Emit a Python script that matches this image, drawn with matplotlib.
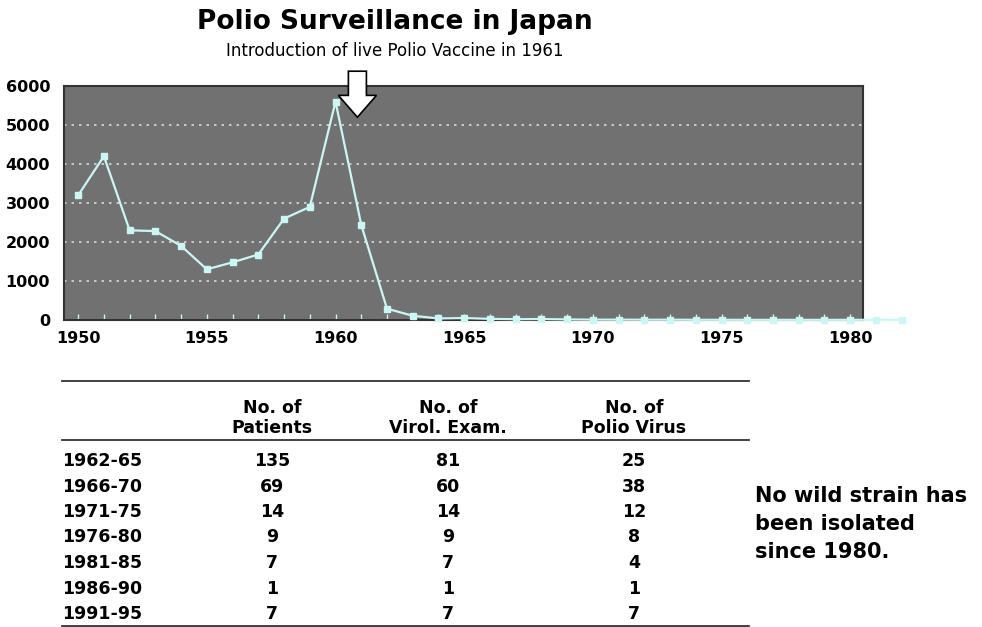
import matplotlib.pyplot as plt
import matplotlib.patches as mpatches
from matplotlib.lines import Line2D

plt.rcParams['font.family'] = ['DejaVu Sans']

# polio cases per year
years = list(range(1950, 1983))
cases = [3200, 4200, 2300, 2280, 1900, 1300, 1480, 1680, 2600, 2900,
         5600, 2440, 290, 110, 40, 50, 30, 20, 25, 15,
         10, 10, 8, 8, 6, 6, 5, 5, 5, 5,
         5, 5, 5]

# table
periods = ["1962-65", "1966-70", "1971-75", "1976-80", "1981-85", "1986-90", "1991-95"]
patients = [135, 69, 14, 9, 7, 1, 7]
virol_exam = [81, 60, 14, 9, 7, 1, 7]
polio_virus = [25, 38, 12, 8, 4, 1, 7]
col_heads = ["No. of\nPatients", "No. of\nVirol. Exam.", "No. of\nPolio Virus"]

fig = plt.figure(figsize=(9.82, 6.27), dpi=100)

# ---- line chart
ax = fig.add_axes([0.0652, 0.4896, 0.8137, 0.3732])
ax.set_facecolor("#717171")
ax.plot(years, cases, color="#c9f7f5", lw=1.6, marker="s", ms=5,
        mfc="#c9f7f5", mec="#c9f7f5", clip_on=False, zorder=5)
ax.set_xlim(1949.45, 1980.5)
ax.set_ylim(0, 6000)
ax.set_yticks(range(0, 7000, 1000))
ax.set_xticks(range(1950, 1981, 5))
ax.set_xticks(range(1950, 1981), minor=True)
ax.tick_params(axis="x", which="both", direction="in", length=4, color="#c9f7f5", width=1)
ax.tick_params(axis="y", length=0, pad=10)
ax.tick_params(axis="x", pad=8)
for lab in ax.get_xticklabels() + ax.get_yticklabels():
    lab.set_fontweight("bold")
    lab.set_fontsize(11.5)
ax.grid(axis="y", color="#d8d8d8", ls=(0, (1.5, 3)), lw=1.2)
ax.grid(axis="x", visible=False)
for s in ax.spines.values():
    s.set_color("#333333")
    s.set_linewidth(1.5)

# arrow marking vaccine introduction (1961)
arr = mpatches.FancyArrow(1960.85, 6380, 0, -1180, width=0.7, head_width=1.48,
                          head_length=560, length_includes_head=True,
                          fc="white", ec="black", lw=1.2, clip_on=False, zorder=6)
ax.add_patch(arr)

fig.text(0.402, 0.965, "Polio Surveillance in Japan", ha="center", va="center",
         fontsize=19, fontweight="bold")
fig.text(0.402, 0.918, "Introduction of live Polio Vaccine in 1961", ha="center",
         va="center", fontsize=12)

# ---- table, pixel coordinates
tx = fig.add_axes([0, 0, 1, 1])
tx.set_xlim(0, 982)
tx.set_ylim(627, 0)
tx.axis("off")
tx.patch.set_alpha(0)

tx.add_line(Line2D([62, 749], [381, 381], color="#333333", lw=1.3))
tx.add_line(Line2D([62, 749], [440, 440], color="#333333", lw=1.3))
tx.add_line(Line2D([62, 749], [626, 626], color="#333333", lw=1.3))

col_x = [272, 448, 634]
for cx, head in zip(col_x, col_heads):
    tx.text(cx, 418, head, ha="center", va="center", fontsize=12.5,
            fontweight="bold", linespacing=1.1)

for i, p in enumerate(periods):
    y = 461 + i * 25.5
    tx.text(62, y, p, ha="left", va="center", fontsize=12.5, fontweight="bold")
    for cx, v in zip(col_x, [patients[i], virol_exam[i], polio_virus[i]]):
        tx.text(cx, y, str(v), ha="center", va="center", fontsize=12.5, fontweight="bold")

tx.text(755, 524, "No wild strain has\nbeen isolated\nsince 1980.", ha="left",
        va="center", fontsize=15, fontweight="bold", linespacing=1.5)

fig.savefig("out.png", dpi=100)
